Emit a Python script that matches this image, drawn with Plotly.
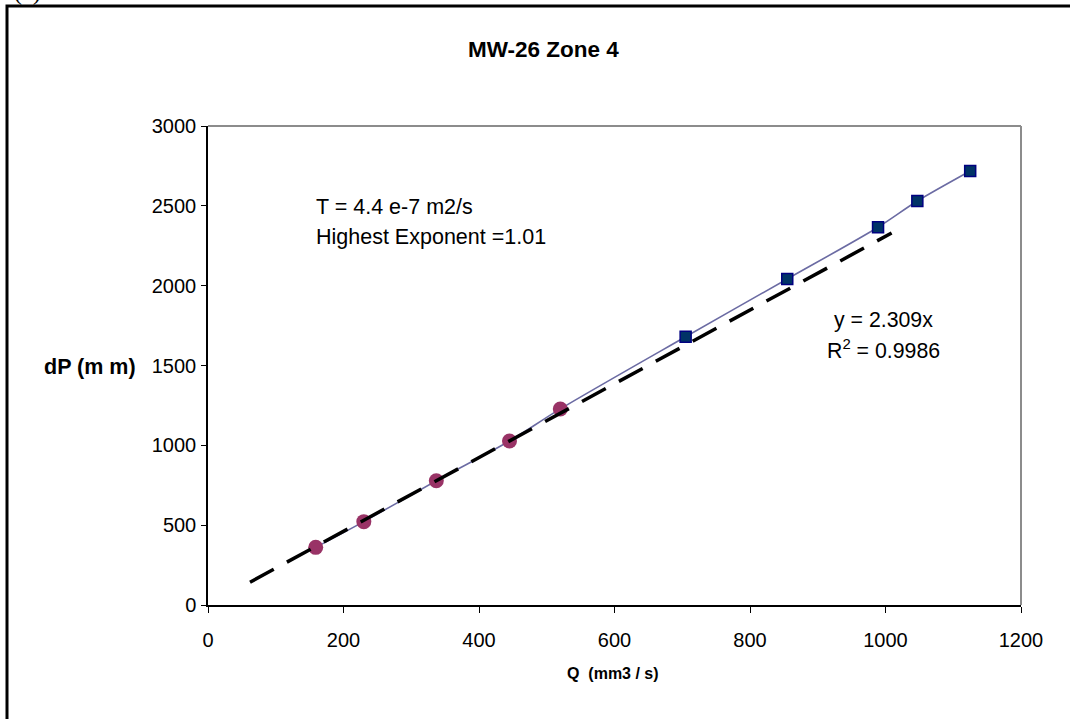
import plotly.graph_objects as go

# ---- data ----
q_low = [159, 230, 337, 445, 520]
dp_low = [361, 522, 778, 1027, 1228]
q_high = [705, 855, 989, 1047, 1125]
dp_high = [1680, 2042, 2366, 2530, 2718]
trend_q = [62, 1009]
trend_dp = [143, 2330]
x_ticks = [0, 200, 400, 600, 800, 1000, 1200]
y_ticks = [0, 500, 1000, 1500, 2000, 2500, 3000]

W, H = 1070, 719
L, R, T, B = 208, 1021, 126, 605
pw, ph = R - L, B - T


def px(x):
    return (x - L) / pw


def py(y):
    return (B - y) / ph


FONT = "Liberation Sans, Arial, sans-serif"

fig = go.Figure()

fig.add_trace(go.Scatter(
    x=q_low + q_high, y=dp_low + dp_high, mode="lines",
    line=dict(color="#6b6ba3", width=1.6, shape="spline", smoothing=0.8),
    hoverinfo="skip", showlegend=False))

fig.add_trace(go.Scatter(
    x=q_low, y=dp_low, mode="markers",
    marker=dict(symbol="circle", size=15, color="#993366",
                line=dict(width=0)),
    showlegend=False))

fig.add_trace(go.Scatter(
    x=q_high, y=dp_high, mode="markers",
    marker=dict(symbol="square", size=11, color="#003366",
                line=dict(width=1.5, color="#000080")),
    showlegend=False))

fig.add_trace(go.Scatter(
    x=trend_q, y=trend_dp, mode="lines",
    line=dict(color="black", width=3.5, dash="27px,15px"),
    hoverinfo="skip", showlegend=False))

fig.update_layout(
    width=W, height=H,
    margin=dict(l=L, r=W - R, t=T, b=H - B, pad=0),
    paper_bgcolor="white", plot_bgcolor="white",
    font=dict(family=FONT, color="black"),
    showlegend=False,
)

fig.update_xaxes(
    range=[0, 1200], tickvals=x_ticks, ticktext=[str(v) for v in x_ticks],
    showgrid=False, zeroline=False, showline=True, linecolor="black",
    linewidth=1.5, ticks="outside", ticklen=6, tickcolor="black",
    tickfont=dict(family=FONT, size=20), ticklabelstandoff=10)

fig.update_yaxes(
    range=[0, 3000], tickvals=y_ticks, ticktext=[str(v) for v in y_ticks],
    showgrid=False, zeroline=False, showline=True, linecolor="black",
    linewidth=1.5, ticks="outside", ticklen=5, tickcolor="black",
    tickfont=dict(family=FONT, size=20), ticklabelstandoff=1)

shapes = [
    # gray top and right border of the plot area
    dict(type="line", xref="paper", yref="paper", x0=0, x1=1, y0=1, y1=1,
         line=dict(color="#8c8c8c", width=2)),
    dict(type="line", xref="paper", yref="paper", x0=1, x1=1, y0=0, y1=1,
         line=dict(color="#8c8c8c", width=2)),
    # outer frame (cut off at right and bottom)
    dict(type="rect", xref="paper", yref="paper",
         x0=px(7), x1=px(1110), y0=py(6), y1=py(780),
         line=dict(color="black", width=3), layer="below"),
]
fig.update_layout(shapes=shapes)

ann = [
    dict(text="<b>MW-26 Zone 4</b>", x=px(543), y=py(50),
         font=dict(size=22.5)),
    dict(text="<b>dP (m m)</b>", x=px(137), y=py(367), xanchor="right",
         font=dict(size=21.5)),
    dict(text="<b>Q  (mm3 / s)</b>", x=px(613), y=py(673),
         font=dict(size=16)),
    dict(text="T = 4.4 e-7 m2/s", x=px(315), y=py(207), xanchor="left",
         font=dict(size=21.5)),
    dict(text="Highest Exponent =1.01", x=px(315), y=py(237), xanchor="left",
         font=dict(size=21.5)),
    dict(text="y = 2.309x", x=px(883), y=py(320), font=dict(size=21.3)),
    dict(text="R<sup>2</sup> = 0.9986", x=px(883), y=py(349),
         font=dict(size=21.3)),
    dict(text="(a)", x=px(27), y=py(6), yanchor="bottom",
         font=dict(family="Liberation Serif, Times New Roman, serif", size=24)),
]
for a in ann:
    a.setdefault("xanchor", "center")
    a.setdefault("yanchor", "middle")
    a.update(xref="paper", yref="paper", showarrow=False, borderpad=0)
fig.update_layout(annotations=ann)

fig.write_html("out.html")
